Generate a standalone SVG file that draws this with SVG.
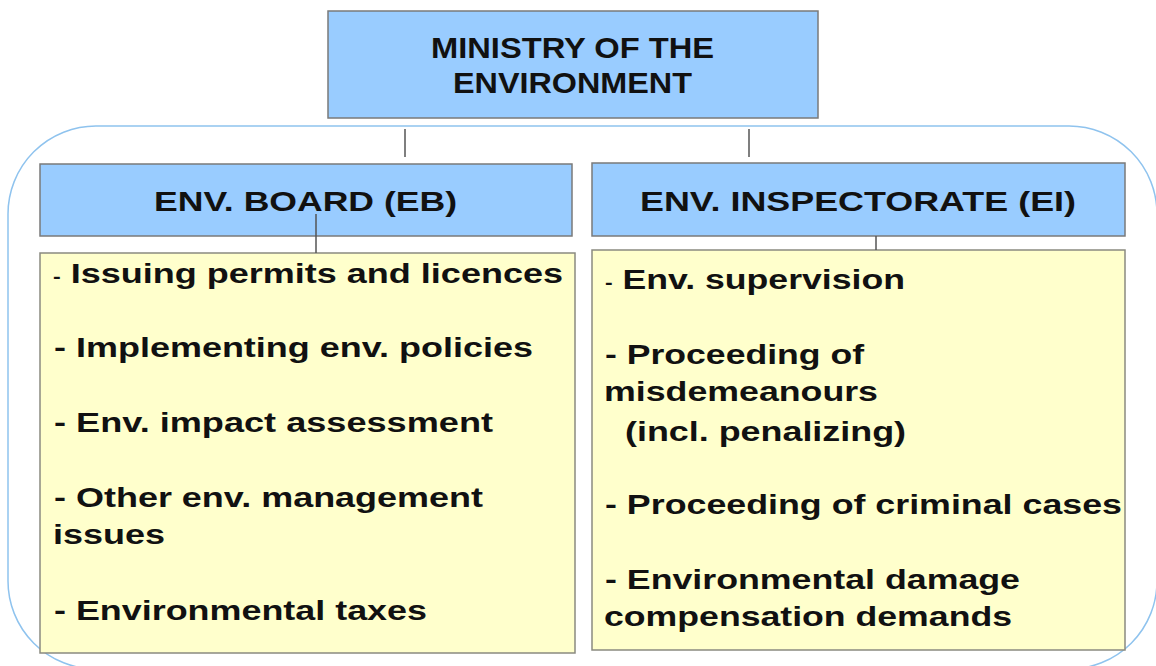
<svg xmlns="http://www.w3.org/2000/svg" width="1156" height="666" viewBox="0 0 1156 666">
<style>
.head{fill:#99ccff;stroke:#7a7a7a;stroke-width:1.5}
.list{fill:#ffffcc;stroke:#8a8a80;stroke-width:1.5}
.t{font-family:"Liberation Sans",Arial,sans-serif;font-weight:bold;fill:#111}
.ttl{font-size:30px}
.hd{font-size:28px}
.it{font-size:28px}
.sd{font-size:18px}
.conn line{stroke:#555;stroke-width:1.5}
</style>
<rect x="0" y="0" width="1156" height="666" fill="#ffffff"/>
<rect id="frame" x="8" y="126" width="1149" height="543" rx="88" ry="88" fill="none" stroke="#8fc3ee" stroke-width="1.5"/>
<g id="ministry">
<rect class="head" x="328" y="11" width="490" height="107"/>
<text class="t ttl" x="431" y="58" textLength="283" lengthAdjust="spacingAndGlyphs">MINISTRY OF THE</text>
<text class="t ttl" x="453" y="93" textLength="239" lengthAdjust="spacingAndGlyphs">ENVIRONMENT</text>
</g>
<g id="eb">
<rect class="head" x="40" y="164" width="532" height="72"/>
<text class="t hd" x="154" y="211" textLength="303" lengthAdjust="spacingAndGlyphs">ENV. BOARD (EB)</text>
</g>
<g id="ei">
<rect class="head" x="592" y="163" width="533" height="73"/>
<text class="t hd" x="640" y="211" textLength="436" lengthAdjust="spacingAndGlyphs">ENV. INSPECTORATE (EI)</text>
</g>
<g id="eb-tasks">
<rect class="list" x="40" y="253" width="535" height="400"/>
<text class="t it" x="53" y="283" textLength="510" lengthAdjust="spacingAndGlyphs"><tspan class="sd">-</tspan> Issuing permits and licences</text>
<text class="t it" x="54" y="357" textLength="479" lengthAdjust="spacingAndGlyphs">- Implementing env. policies</text>
<text class="t it" x="54" y="432" textLength="439" lengthAdjust="spacingAndGlyphs">- Env. impact assessment</text>
<text class="t it" x="54" y="507" textLength="429" lengthAdjust="spacingAndGlyphs">- Other env. management</text>
<text class="t it" x="53" y="544" textLength="112" lengthAdjust="spacingAndGlyphs">issues</text>
<text class="t it" x="54" y="620" textLength="373" lengthAdjust="spacingAndGlyphs">- Environmental taxes</text>
</g>
<g id="ei-tasks">
<rect class="list" x="592" y="250" width="533" height="400"/>
<text class="t it" x="605" y="289" textLength="300" lengthAdjust="spacingAndGlyphs"><tspan class="sd">-</tspan> Env. supervision</text>
<text class="t it" x="605" y="364" textLength="259" lengthAdjust="spacingAndGlyphs">- Proceeding of</text>
<text class="t it" x="604" y="401" textLength="274" lengthAdjust="spacingAndGlyphs">misdemeanours</text>
<text class="t it" x="625" y="441" textLength="281" lengthAdjust="spacingAndGlyphs">(incl. penalizing)</text>
<text class="t it" x="605" y="514" textLength="517" lengthAdjust="spacingAndGlyphs">- Proceeding of criminal cases</text>
<text class="t it" x="605" y="589" textLength="415" lengthAdjust="spacingAndGlyphs">- Environmental damage</text>
<text class="t it" x="604" y="626" textLength="408" lengthAdjust="spacingAndGlyphs">compensation demands</text>
</g>
<g class="conn" id="connectors">
<line x1="405" y1="129" x2="405" y2="157"/>
<line x1="749" y1="129" x2="749" y2="157"/>
<line x1="316" y1="214" x2="316" y2="253"/>
<line x1="876" y1="236" x2="876" y2="250"/>
</g>
</svg>
